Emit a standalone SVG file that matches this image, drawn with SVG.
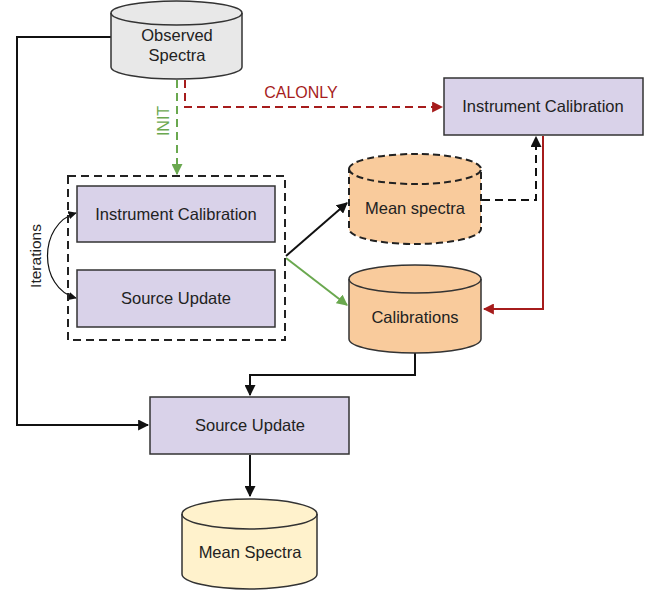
<svg xmlns="http://www.w3.org/2000/svg" width="662" height="592" viewBox="0 0 662 592">
<defs>
<style>
text{font-family:"Liberation Sans",Arial,sans-serif;font-size:16.5px;fill:#222;text-anchor:middle}
.box{fill:#d9d2e9;stroke:#333;stroke-width:1.5}
.cyl{stroke:#333;stroke-width:1.5}
.blk{fill:none;stroke:#111;stroke-width:2}
.red{fill:none;stroke:#a61c1c;stroke-width:2}
.grn{fill:none;stroke:#6aa84f;stroke-width:2}
.dash{stroke-dasharray:8,5}
</style>
<marker id="ab" viewBox="0 0 10 10" refX="9" refY="5" markerWidth="5.5" markerHeight="5.5" orient="auto" markerUnits="strokeWidth"><path d="M0,0L10,5L0,10z" fill="#111"/></marker>
<marker id="ar" viewBox="0 0 10 10" refX="9" refY="5" markerWidth="5.5" markerHeight="5.5" orient="auto" markerUnits="strokeWidth"><path d="M0,0L10,5L0,10z" fill="#a61c1c"/></marker>
<marker id="ag" viewBox="0 0 10 10" refX="9" refY="5" markerWidth="5.5" markerHeight="5.5" orient="auto" markerUnits="strokeWidth"><path d="M0,0L10,5L0,10z" fill="#6aa84f"/></marker>
<marker id="as" viewBox="0 0 10 10" refX="9" refY="5" markerWidth="7" markerHeight="7" orient="auto-start-reverse" markerUnits="strokeWidth"><path d="M0,0L10,5L0,10z" fill="#111"/></marker>
</defs>

<g id="connectors">
<path class="blk" d="M111,37H17V425H148" marker-end="url(#ab)"/>
<path class="grn dash" d="M177,80V174" marker-end="url(#ag)"/>
<path class="red dash" d="M185,80V107H442" marker-end="url(#ar)"/>
<path class="blk" d="M286,256L347,203" marker-end="url(#ab)"/>
<path class="grn" d="M286,258L347,305" marker-end="url(#ag)"/>
<path class="blk dash" d="M482,200H536V137" marker-end="url(#ab)"/>
<path class="red" d="M543,136V309H484" marker-end="url(#ar)"/>
<path class="blk" d="M415,353V375H250V395" marker-end="url(#ab)"/>
<path class="blk" d="M250,455V496" marker-end="url(#ab)"/>
<path fill="none" stroke="#111" stroke-width="1.2" d="M76,213C38,224 38,288 76,298" marker-start="url(#as)" marker-end="url(#as)"/>
<text x="301" y="98" style="font-size:16px;fill:#a61c1c">CALONLY</text>
<text transform="translate(169,121) rotate(-90)" style="font-size:16px;fill:#6aa84f">INIT</text>
<text transform="translate(41,256) rotate(-90)" style="font-size:15.5px">Iterations</text>
</g>

<g id="observed-spectra">
<path class="cyl" fill="#e8e8e8" d="M111,13A65.5,12 0 0 1 242,13V67A65.5,12 0 0 1 111,67Z"/>
<path class="cyl" fill="none" d="M111,13A65.5,12 0 0 0 242,13"/>
<text x="177" y="41">Observed</text>
<text x="177" y="61">Spectra</text>
</g>

<g id="iteration-group">
<rect x="68" y="176" width="217" height="164" fill="none" stroke="#222" stroke-width="2" stroke-dasharray="8,5"/>
</g>

<g id="inner-calibration">
<rect class="box" x="77" y="186" width="198" height="56"/>
<text x="176" y="220">Instrument Calibration</text>
</g>

<g id="inner-source-update">
<rect class="box" x="77" y="270" width="198" height="57"/>
<text x="176" y="304">Source Update</text>
</g>

<g id="instrument-calibration">
<rect class="box" x="444" y="78" width="199" height="57"/>
<text x="543" y="112">Instrument Calibration</text>
</g>

<g id="mean-spectra-dashed">
<path fill="#f9cb9c" stroke="#222" stroke-width="2" stroke-dasharray="7,4" d="M349,169A66,15 0 0 1 481,169V229A66,15 0 0 1 349,229Z"/>
<path fill="none" stroke="#222" stroke-width="2" stroke-dasharray="7,4" d="M349,169A66,15 0 0 0 481,169"/>
<text x="415" y="214">Mean spectra</text>
</g>

<g id="calibrations">
<path class="cyl" fill="#f9cb9c" d="M349,279A66,14 0 0 1 481,279V339A66,14 0 0 1 349,339Z"/>
<path class="cyl" fill="none" d="M349,279A66,14 0 0 0 481,279"/>
<text x="415" y="323">Calibrations</text>
</g>

<g id="source-update">
<rect class="box" x="150" y="397" width="199" height="57"/>
<text x="250" y="431">Source Update</text>
</g>

<g id="mean-spectra">
<path class="cyl" fill="#fff2cc" d="M182,514A67.5,15 0 0 1 317,514V574A67.5,15 0 0 1 182,574Z"/>
<path class="cyl" fill="none" d="M182,514A67.5,15 0 0 0 317,514"/>
<text x="250" y="558">Mean Spectra</text>
</g>
</svg>
